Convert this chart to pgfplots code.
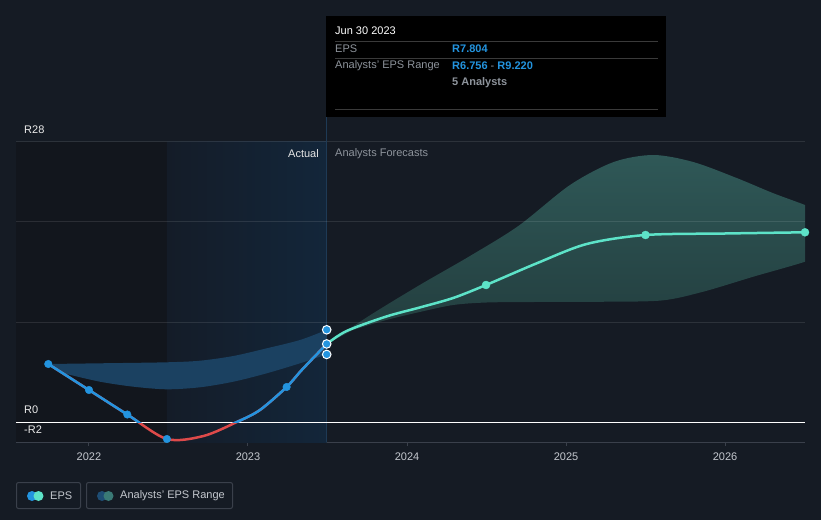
\documentclass[border=0pt]{standalone}
\usepackage{pgfplots}
\pgfplotsset{compat=1.18}
\usepackage{fontspec}
\setmainfont{Liberation Sans}
\definecolor{bg}{HTML}{151B24}
\definecolor{leftdark}{HTML}{12161D}
\definecolor{hlL}{HTML}{141C28}
\definecolor{hlR}{HTML}{13263A}
\definecolor{axisc}{HTML}{3A404B}
\definecolor{epsblue}{HTML}{2394DF}
\definecolor{epsteal}{HTML}{5DE3C8}
\definecolor{epsred}{HTML}{DE4A4A}
\definecolor{bandblue}{HTML}{1B4161}
\definecolor{bandtealT}{HTML}{2F5857}
\definecolor{bandtealB}{HTML}{223C3D}
\definecolor{txtgray}{HTML}{8E949C}
\definecolor{ticktxt}{HTML}{C4C8CE}
\definecolor{vline}{HTML}{1E3A55}
\definecolor{sepc}{HTML}{3A3A3A}
\definecolor{legblue}{HTML}{1E4D74}
\definecolor{legteal}{HTML}{3A7A76}
% x values are years minus 2020
\pgfplotstableread{
x y
1.744 5.8
2.0 3.2
2.241 0.75
2.49 -1.7
2.72 -1.4
2.93 0.0
3.075 1.2
3.243 3.5
3.338 5.2
3.495 7.8
}\epsactual
\pgfplotsset{
  base/.style={
    scale only axis, width=789pt,
    xmin=1.541, xmax=6.503,
    anchor=south west,
  }
}
\begin{document}
\begin{tikzpicture}[x=1pt,y=1pt,font=\fontsize{11}{13}\selectfont]
\fill[bg] (0,0) rectangle (821,520);
% axis 1: backgrounds, x axis
\begin{axis}[base,
  at={(16pt,78pt)}, height=300pt,
  ymin=-2, ymax=28,
  axis x line*=bottom, axis y line=none,
  axis line style={draw=axisc, line width=1pt, -},
  xtick={2,3,4,5,6},
  xticklabels={2022,2023,2024,2025,2026},
  tick align=outside, major tick length=4pt,
  tick style={draw=axisc, line width=1pt},
  xticklabel style={text=ticktxt, font=\fontsize{11}{13}\selectfont, yshift=-3pt},
  ytick=\empty,
]
\fill[leftdark] (axis cs:1.541,-2) rectangle (axis cs:2.49,28);
\shade[left color=hlL, right color=hlR] (axis cs:2.49,-2) rectangle (axis cs:3.495,28);
\draw[vline, line width=1.5pt] (axis cs:3.495,-2) -- (axis cs:3.495,28);
\addplot[draw=none] coordinates {(2,0)};
\end{axis}

% axis 2: actual EPS range band, clipped at Jun 2023
\begin{axis}[scale only axis, anchor=south west, at={(16pt,78pt)},
  width=310.70pt, height=300pt, xmin=1.541, xmax=3.495, ymin=-2, ymax=28, hide axis]
\addplot[fill=bandblue, draw=none, smooth] coordinates {
 (1.744,5.8) (2.069,5.87) (2.489,5.97) (2.698,6.13) (2.908,6.6) (3.118,7.37) (3.327,8.2) (3.495,9.22) (3.6,10.0)
 (3.6,7.3) (3.495,6.756) (3.327,5.87) (3.118,4.87) (2.908,4.03) (2.698,3.47) (2.489,3.27) (2.279,3.53) (2.069,4.03) (1.859,4.8)} -- cycle;
\end{axis}

% axis 3: forecast band, grid, zero line, red EPS, forecast EPS
\begin{axis}[base, at={(16pt,78pt)}, height=300pt, ymin=-2, ymax=28, hide axis]
\addplot[top color=bandtealT, bottom color=bandtealB, draw=none, smooth] coordinates {
 (3.495,7.8) (3.77,10.7) (4.08,13.7) (4.396,16.6) (4.70,19.6) (5.025,23.7) (5.30,26.0) (5.549,26.7) (5.80,26.0) (6.073,24.4) (6.30,22.9) (6.503,21.7) (6.7,20.4)
 (6.7,17.3) (6.503,16.03) (6.178,14.53) (5.863,13.03) (5.6,12.15) (5.2,12.02) (4.8,12.0) (4.50,11.95) (4.29,11.7) (4.08,11.0) (3.87,10.2) (3.66,9.2)} -- cycle;
\draw[white, opacity=0.1, line width=1pt] (axis cs:1.541,10) -- (axis cs:6.503,10);
\draw[white, opacity=0.1, line width=1pt] (axis cs:1.541,20) -- (axis cs:6.503,20);
\draw[white, opacity=0.1, line width=1pt] (axis cs:1.541,28) -- (axis cs:6.503,28);
\draw[white, line width=1pt] (axis cs:1.541,0) -- (axis cs:6.503,0);
\addplot[epsred, line width=2.5pt, smooth] table {\epsactual};
\addplot[epsteal, line width=2.5pt, smooth] coordinates {
 (3.495,7.8) (3.62,9.1) (3.87,10.55) (4.08,11.45) (4.29,12.4) (4.497,13.7) (4.816,15.87) (5.13,17.8) (5.50,18.7) (6.0,18.85) (6.503,18.97)};
\end{axis}

% axis 4: same scale, clipped at zero -> blue part of EPS
\begin{axis}[base, at={(16pt,98pt)}, height=280pt, ymin=0, ymax=28, hide axis]
\addplot[epsblue, line width=2.5pt, smooth] table {\epsactual};
\end{axis}

% axis 5: markers
\begin{axis}[base, at={(16pt,78pt)}, height=300pt, ymin=-2, ymax=28, hide axis]
\addplot[only marks, mark=*, mark size=3.8pt, mark options={fill=epsblue, draw=epsblue}] coordinates {
 (1.744,5.8) (2.0,3.2) (2.241,0.75) (2.49,-1.7) (3.243,3.5)};
\addplot[only marks, mark=*, mark size=4.3pt, mark options={fill=epsblue, draw=white, line width=1pt}] coordinates {
 (3.495,9.22) (3.495,7.804) (3.495,6.756)};
\addplot[only marks, mark=*, mark size=4pt, mark options={fill=epsteal, draw=epsteal}] coordinates {
 (4.497,13.7) (5.50,18.7) (6.503,18.97)};
\end{axis}

% vertical marker line above the plot area
\draw[vline, line width=1.5pt] (326.7,403) -- (326.7,378);

% section labels
\node[anchor=east, inner sep=0, text=white!90!black] at (319,366) {Actual};
\node[anchor=west, inner sep=0, text=txtgray] at (335,366) {Analysts Forecasts};

% y labels
\node[anchor=west, inner sep=0, text=white!92!black] at (24,390) {R28};
\node[anchor=west, inner sep=0, text=white!92!black] at (24,110) {R0};
\node[anchor=west, inner sep=0, text=white!92!black] at (24,90) {-R2};

% tooltip
\fill[black] (326,403) rectangle (666,504);
\draw[sepc, line width=0.8pt] (335,479) -- (658,479);
\draw[sepc, line width=0.8pt] (335,462) -- (658,462);
\draw[sepc, line width=0.8pt] (335,411) -- (658,411);
\node[anchor=west, inner sep=0, text=white] at (335,489) {Jun 30 2023};
\node[anchor=west, inner sep=0, text=txtgray] at (335,471.5) {EPS};
\node[anchor=west, inner sep=0, text=epsblue] at (452,471.5) {\bfseries R7.804};
\node[anchor=west, inner sep=0, text=txtgray] at (335,454) {Analysts' EPS Range};
\node[anchor=west, inner sep=0] at (452,454) {\textcolor{epsblue}{\bfseries R6.756} \textcolor{txtgray}{-} \textcolor{epsblue}{\bfseries R9.220}};
\node[anchor=west, inner sep=0, text=txtgray] at (452,437) {\bfseries 5 Analysts};

% legend
\draw[axisc, line width=1pt, rounded corners=2pt] (16.5,11.5) rectangle (80.5,37.5);
\fill[epsblue] (32,24) circle (5);
\fill[epsteal] (38.5,24) circle (5);
\node[anchor=west, inner sep=0, text=ticktxt] at (50,24) {EPS};
\draw[axisc, line width=1pt, rounded corners=2pt] (86.5,11.5) rectangle (232.5,37.5);
\fill[legblue] (102,24) circle (5);
\fill[legteal] (108.5,24) circle (5);
\node[anchor=west, inner sep=0, text=ticktxt] at (120,24) {Analysts' EPS Range};
\end{tikzpicture}
\end{document}
